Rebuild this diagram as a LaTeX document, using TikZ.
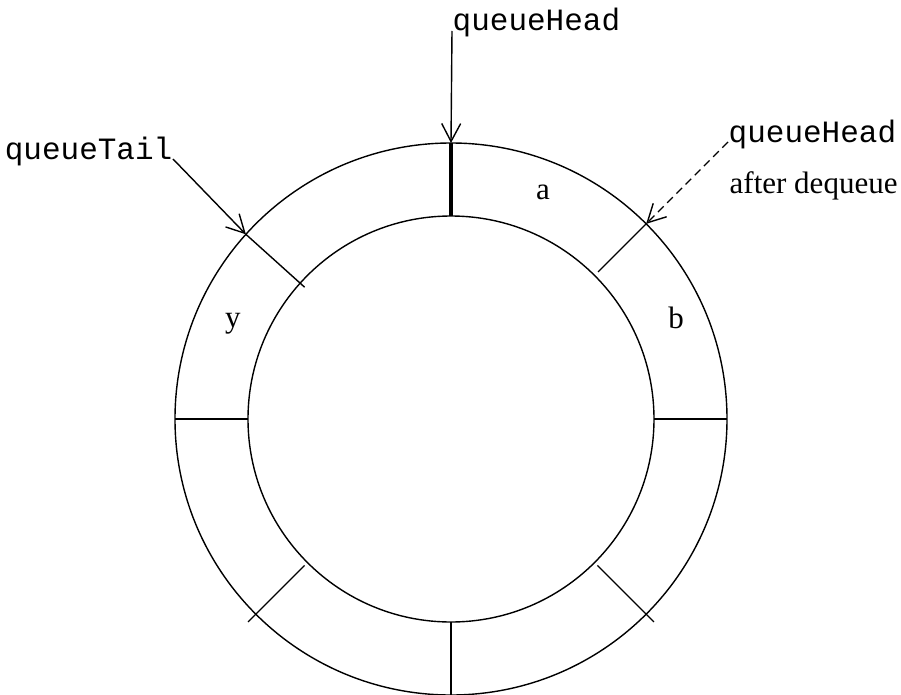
\documentclass[tikz,border=0pt]{standalone}
\usepackage{fontspec}
\setmainfont{Liberation Serif}
\setmonofont{Liberation Mono}
\usetikzlibrary{arrows.meta}

\tikzset{
    ptr/.style = {line width=1.4pt, -{Straight Barb[length=18pt,width=19pt,line width=1.4pt]}},
    lbl/.style = {inner sep=0pt, font=\fontsize{31}{37}\selectfont},
    code/.style = {lbl, font=\fontsize{31}{37}\selectfont\ttfamily}
}

\begin{document}
\begin{tikzpicture}[x=1pt, y=1pt, line width=1.4pt]
    \useasboundingbox (-451,-275) rectangle (450,419);

    % Ring
    \coordinate (c) at (0,0);
    \draw (c) circle (276);
    \draw (c) circle (203);

    % Dividers
    \foreach \a/\r/\R in {0/203/276, 180/203/276, 270/203/276, 45/208/277, -45/207/287, 225/207/287, 138/197/276} {
        \draw (\a:\r) -- (\a:\R);
    }
    \draw[line width=3.2pt] (90:203) -- (90:276);

    % Slot contents
    \node[lbl, anchor=base] (sa) at (92,220) {a};
    \node[lbl, anchor=base] (sb) at (225,91) {b};
    \node[lbl, anchor=base] (sy) at (-218,92) {y};

    % Pointers
    \coordinate (headpos) at (90:276);
    \coordinate (tailpos) at (138:276);
    \coordinate (nextpos) at (45:276);

    \node[code, anchor=base west] (head) at (1,388) {queueHead};
    \node[code, anchor=base east] (tail) at (-278,260) {queueTail};
    \node[code, anchor=base west] (newhead) at (277,277) {queueHead};
    \node[lbl, anchor=base west] (after) at (278,226) {after dequeue};

    \draw[ptr] (head.base west) -- (headpos);
    \draw[ptr] (tail.base east) -- (tailpos);
    \draw[ptr, dash pattern=on 8pt off 5pt] (newhead.base west) -- (nextpos);
\end{tikzpicture}
\end{document}
